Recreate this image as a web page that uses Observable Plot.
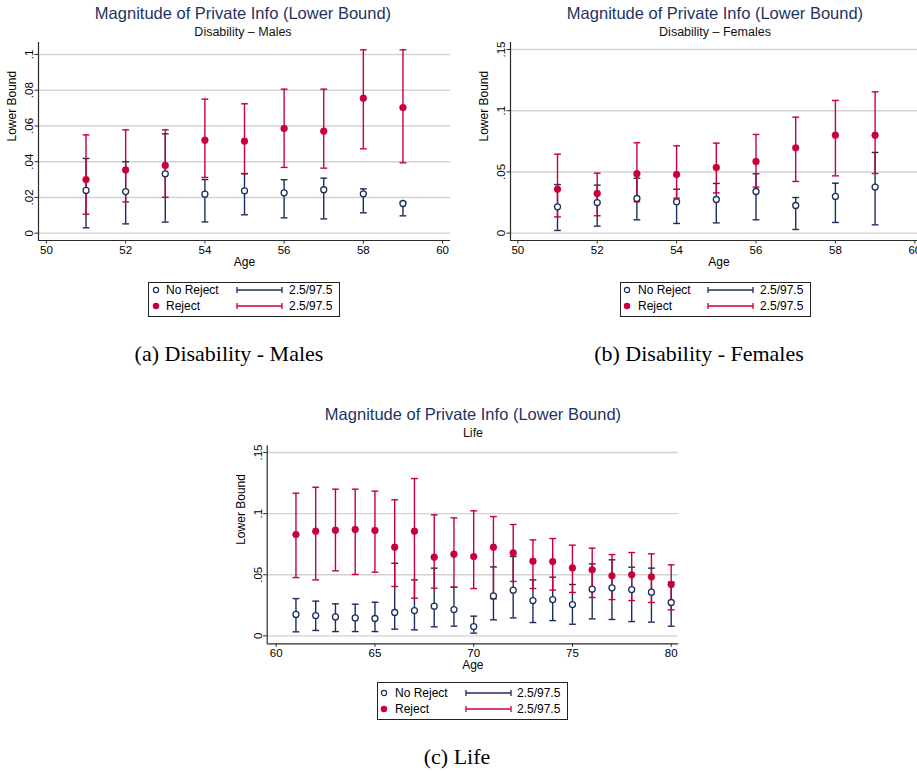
<!DOCTYPE html>
<html>
<head>
<meta charset="utf-8">
<script src="https://cdn.jsdelivr.net/npm/d3@7"></script>
<script src="https://cdn.jsdelivr.net/npm/@observablehq/plot@0.6"></script>
<style>
  html, body { margin: 0; padding: 0; background: #fff; }
  body { width: 917px; height: 772px; position: relative; overflow: hidden; font-family: "Liberation Sans", Arial, sans-serif; }
  .abs { position: absolute; }
  .title { color: #1f3262; font-size: 16.5px; white-space: nowrap; transform: translate(-50%, -50%); }
  .subtitle { color: #111; font-size: 12.5px; white-space: nowrap; transform: translate(-50%, -50%); }
  .caption { color: #000; font-family: "Liberation Serif", "DejaVu Serif", serif; font-size: 22px; white-space: nowrap; transform: translate(-50%, -50%); }
  .legend { border: 1px solid #222; box-sizing: border-box; background: #fff; }
</style>
</head>
<body>
<script>
// ---------------- DATA ----------------
const mainTitle = "Magnitude of Private Info (Lower Bound)";
const subtitles = ["Disability \u2013 Males", "Disability \u2013 Females", "Life"];
const captions = ["(a) Disability - Males", "(b) Disability - Females", "(c) Life"];
const xLabel = "Age";
const yLabel = "Lower Bound";
const seriesNames = ["No Reject", "Reject"];
const ciName = "2.5/97.5";

const disAges = [51, 52, 53, 54, 55, 56, 57, 58, 59];
const lifeAges = [61, 62, 63, 64, 65, 66, 67, 68, 69, 70, 71, 72, 73, 74, 75, 76, 77, 78, 79, 80];

// Disability - Males
const dmRejectEst = [0.030, 0.0354, 0.0379, 0.052, 0.0515, 0.0586, 0.0571, 0.0755, 0.0703];
const dmRejectLo  = [0.0106, 0.0175, 0.0201, 0.0312, 0.0334, 0.0368, 0.0364, 0.0472, 0.0394];
const dmRejectHi  = [0.055, 0.0578, 0.0578, 0.075, 0.0724, 0.0806, 0.0806, 0.1026, 0.1026];
const dmNoRejEst  = [0.0239, 0.0233, 0.0332, 0.0218, 0.0237, 0.0226, 0.0243, 0.022, 0.0166];
const dmNoRejLo   = [0.003, 0.0052, 0.0062, 0.0063, 0.0103, 0.0086, 0.008, 0.0114, 0.0097];
const dmNoRejHi   = [0.0418, 0.040, 0.0556, 0.030, 0.0332, 0.0299, 0.0308, 0.0248, 0.0174];

// Disability - Females
const dfRejectEst = [0.0359, 0.0324, 0.0485, 0.0479, 0.0536, 0.0585, 0.0697, 0.080, 0.080];
const dfRejectLo  = [0.0133, 0.0142, 0.0256, 0.0286, 0.0329, 0.0376, 0.0422, 0.0468, 0.0487];
const dfRejectHi  = [0.0645, 0.049, 0.0738, 0.0713, 0.0735, 0.0806, 0.0947, 0.1084, 0.1154];
const dfNoRejEst  = [0.0215, 0.025, 0.0283, 0.0256, 0.0275, 0.034, 0.0226, 0.030, 0.0376];
const dfNoRejLo   = [0.0022, 0.0057, 0.0109, 0.0079, 0.0084, 0.0109, 0.003, 0.0087, 0.0068];
const dfNoRejHi   = [0.0397, 0.0392, 0.0449, 0.0359, 0.0406, 0.0485, 0.0291, 0.0408, 0.0659];

// Life
const lfRejectEst = [0.0829, 0.0856, 0.0864, 0.087, 0.0862, 0.0725, 0.0856, 0.0644, 0.0668, 0.0649, 0.0725, 0.0679, 0.0611, 0.0608, 0.0556, 0.054, 0.0491, 0.0499, 0.0483, 0.042];
const lfRejectLo  = [0.0477, 0.0458, 0.0532, 0.0502, 0.0521, 0.0404, 0.0308, 0.039, 0.0398, 0.0387, 0.0303, 0.0445, 0.0387, 0.0374, 0.0355, 0.0314, 0.0297, 0.0289, 0.0273, 0.0213];
const lfRejectHi  = [0.1167, 0.1216, 0.120, 0.120, 0.1184, 0.1113, 0.1287, 0.099, 0.0965, 0.1023, 0.0976, 0.0911, 0.0785, 0.0796, 0.0742, 0.0717, 0.0665, 0.0682, 0.0671, 0.0581];
const lfNoRejEst  = [0.0175, 0.0166, 0.0155, 0.0147, 0.0142, 0.0191, 0.0207, 0.0243, 0.0215, 0.0076, 0.0327, 0.0374, 0.0289, 0.0297, 0.0256, 0.0382, 0.0393, 0.0379, 0.0357, 0.0273];
const lfNoRejLo   = [0.0033, 0.0044, 0.0035, 0.0035, 0.0035, 0.0055, 0.0049, 0.0074, 0.0079, 0.0022, 0.0131, 0.0147, 0.0109, 0.0125, 0.0095, 0.0139, 0.0134, 0.0117, 0.0112, 0.0079];
const lfNoRejHi   = [0.0305, 0.0284, 0.0262, 0.0259, 0.0275, 0.0594, 0.0458, 0.0554, 0.0398, 0.0161, 0.0564, 0.0649, 0.0458, 0.048, 0.042, 0.0589, 0.0622, 0.0562, 0.0554, 0.0439];

const disXTicks = [50, 52, 54, 56, 58, 60];
const lifeXTicks = [60, 65, 70, 75, 80];
const dmYTicks = [0, 0.02, 0.04, 0.06, 0.08, 0.1];
const dfYTicks = [0, 0.05, 0.1, 0.15];
const lfYTicks = [0, 0.05, 0.1, 0.15];

// ---------------- STYLE ----------------
const NAVY = "#1c2d5e";
const RED = "#c8003a";
const GRID = "#d2d2d2";
const AXIS = "#2a2a2a";

const capSymbol = {
  draw(context, size) {
    const w = Math.sqrt(size / Math.PI);
    context.moveTo(-w, 0);
    context.lineTo(w, 0);
  }
};
const fmtY = d => d === 0 ? "0" : String(d).replace(/^0/, "");

function build(ages, est, lo, hi) {
  return ages.map((a, i) => ({age: a, est: est[i], lo: lo[i], hi: hi[i]}));
}

function panel(cfg) {
  const noRej = build(cfg.ages, cfg.nrEst, cfg.nrLo, cfg.nrHi);
  const rej = build(cfg.ages, cfg.rEst, cfg.rLo, cfg.rHi);
  const ciMarks = (data, color) => [
    Plot.ruleX(data, {x: "age", y1: "lo", y2: "hi", stroke: color, strokeWidth: 1.4}),
    Plot.dot(data, {x: "age", y: "lo", symbol: capSymbol, r: 3.4, stroke: color, fill: "none", strokeWidth: 1.4}),
    Plot.dot(data, {x: "age", y: "hi", symbol: capSymbol, r: 3.4, stroke: color, fill: "none", strokeWidth: 1.4})
  ];
  const svg = Plot.plot({
    width: cfg.width, height: cfg.height,
    marginLeft: cfg.ml, marginRight: cfg.mr, marginTop: cfg.mt, marginBottom: cfg.mb,
    x: {domain: cfg.xDomain},
    y: {domain: cfg.yDomain},
    style: {fontFamily: "'Liberation Sans', Arial, sans-serif", fontSize: "11.5px", color: "#000", background: "transparent", overflow: "visible"},
    marks: [
      Plot.gridY(cfg.yTicks, {stroke: GRID, strokeOpacity: 1, strokeWidth: 1.4}),
      Plot.ruleX([cfg.xDomain[0]], {stroke: AXIS, strokeWidth: 1.2}),
      Plot.ruleY([cfg.yDomain[0]], {stroke: AXIS, strokeWidth: 1.2}),
      Plot.axisY(cfg.yTicks, {tickSize: 3.5, tickPadding: 2, tickRotate: -90, tickFormat: fmtY, label: null, stroke: AXIS, fontSize: 11.5}),
      Plot.axisX(cfg.xTicks, {tickSize: 3.5, tickPadding: 2, label: null, stroke: AXIS, fontSize: 11.5}),
      Plot.text([xLabel], {frameAnchor: "bottom", dy: cfg.xLabelDy, text: d => d, fontSize: 12}),
      Plot.text([yLabel], {frameAnchor: "left", dx: -26, rotate: -90, text: d => d, fontSize: 12}),
      ...ciMarks(noRej, NAVY),
      ...ciMarks(rej, RED),
      Plot.dot(noRej, {x: "age", y: "est", r: 3, stroke: NAVY, fill: "white", strokeWidth: 1.3}),
      Plot.dot(rej, {x: "age", y: "est", r: 3.4, fill: RED, stroke: RED, strokeWidth: 0.5})
    ]
  });
  svg.classList.add("abs");
  svg.style.left = cfg.left + "px";
  svg.style.top = cfg.top + "px";
  document.body.appendChild(svg);

  addText(mainTitle, "title", cfg.cx, cfg.titleY);
  addText(cfg.subtitle, "subtitle", cfg.cx, cfg.titleY + 19);
  addLegend(cfg.legend);
  addText(cfg.caption, "caption", cfg.capX, cfg.capY);
}

function addText(str, cls, x, y) {
  const d = document.createElement("div");
  d.className = "abs " + cls;
  d.style.left = x + "px";
  d.style.top = y + "px";
  d.textContent = str;
  document.body.appendChild(d);
}

function addLegend(L) {
  const box = document.createElement("div");
  box.className = "abs legend";
  box.style.left = L.left + "px";
  box.style.top = L.top + "px";
  box.style.width = L.width + "px";
  box.style.height = L.height + "px";
  document.body.appendChild(box);
  const sel = d3.select(box).append("svg")
    .attr("width", L.width).attr("height", L.height)
    .style("position", "absolute").style("left", "-1px").style("top", "-1px")
    .style("font-family", "'Liberation Sans', Arial, sans-serif").style("font-size", "12px");
  const colors = [NAVY, RED];
  seriesNames.forEach((name, i) => {
    const y = L.rows[i];
    const c = colors[i];
    if (i === 0) sel.append("circle").attr("cx", L.mx).attr("cy", y).attr("r", 2.6).attr("fill", "white").attr("stroke", c).attr("stroke-width", 1.2);
    else sel.append("circle").attr("cx", L.mx).attr("cy", y).attr("r", 3.2).attr("fill", c);
    sel.append("text").attr("x", L.tx).attr("y", y).attr("dy", "0.35em").text(name);
    sel.append("line").attr("x1", L.l1).attr("x2", L.l2).attr("y1", y).attr("y2", y).attr("stroke", c).attr("stroke-width", 1.3);
    sel.append("line").attr("x1", L.l1).attr("x2", L.l1).attr("y1", y - 3).attr("y2", y + 3).attr("stroke", c).attr("stroke-width", 1.3);
    sel.append("line").attr("x1", L.l2).attr("x2", L.l2).attr("y1", y - 3).attr("y2", y + 3).attr("stroke", c).attr("stroke-width", 1.3);
    sel.append("text").attr("x", L.t2).attr("y", y).attr("dy", "0.35em").text(ciName);
  });
}

// Panel (a)
panel({
  ages: disAges, rEst: dmRejectEst, rLo: dmRejectLo, rHi: dmRejectHi,
  nrEst: dmNoRejEst, nrLo: dmNoRejLo, nrHi: dmNoRejHi,
  xTicks: disXTicks, yTicks: dmYTicks,
  xDomain: [49.8, 60.2], yDomain: [-0.0041, 0.1067],
  left: 0, top: 40, width: 460, height: 235, ml: 38, mr: 10, mt: 2, mb: 35, xLabelDy: 25,
  cx: 243, titleY: 13, subtitle: subtitles[0],
  legend: {left: 148, top: 282, width: 192, height: 35, rows: [8, 24], mx: 8, tx: 18, l1: 89, l2: 134, t2: 141},
  caption: captions[0], capX: 229, capY: 354
});

// Panel (b)
panel({
  ages: disAges, rEst: dfRejectEst, rLo: dfRejectLo, rHi: dfRejectHi,
  nrEst: dfNoRejEst, nrLo: dfNoRejLo, nrHi: dfNoRejHi,
  xTicks: disXTicks, yTicks: dfYTicks,
  xDomain: [49.816, 60.32], yDomain: [-0.006, 0.1557],
  left: 460, top: 40, width: 470, height: 235, ml: 50, mr: 3, mt: 2, mb: 35, xLabelDy: 25,
  cx: 715, titleY: 13, subtitle: subtitles[1],
  legend: {left: 620, top: 282, width: 191, height: 35, rows: [8, 24], mx: 7, tx: 18, l1: 88, l2: 133, t2: 140},
  caption: captions[1], capX: 699, capY: 354
});

// Panel (c)
panel({
  ages: lifeAges, rEst: lfRejectEst, rLo: lfRejectLo, rHi: lfRejectHi,
  nrEst: lfNoRejEst, nrLo: lfNoRejLo, nrHi: lfNoRejHi,
  xTicks: lifeXTicks, yTicks: lfYTicks,
  xDomain: [59.544, 80.37], yDomain: [-0.0065, 0.1555],
  left: 230, top: 440, width: 460, height: 235, ml: 36.7, mr: 12, mt: 5.3, mb: 31.7, xLabelDy: 25.5,
  cx: 473, titleY: 414, subtitle: subtitles[2],
  legend: {left: 377, top: 682, width: 191, height: 38, rows: [11, 27], mx: 7, tx: 18, l1: 89, l2: 134, t2: 140},
  caption: captions[2], capX: 457, capY: 757
});
</script>
</body>
</html>
